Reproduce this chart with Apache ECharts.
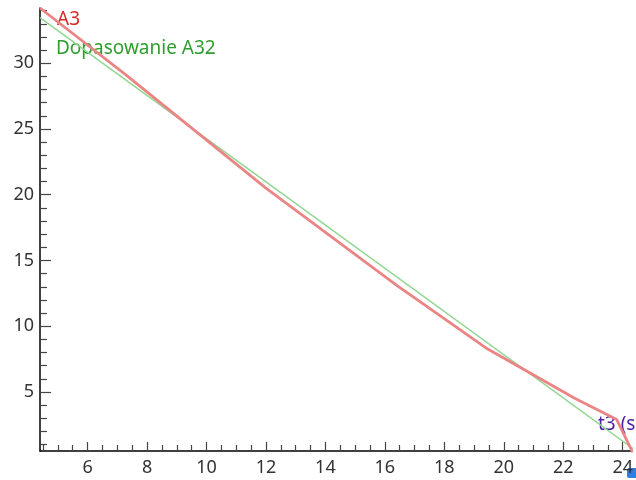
<!DOCTYPE html>
<html>
<head>
<meta charset="utf-8">
<script src="https://cdn.jsdelivr.net/npm/echarts@6/dist/echarts.min.js"></script>
<style>
  html, body { margin: 0; padding: 0; background: #fff; }
  #chart { width: 636px; height: 480px; }
</style>
</head>
<body>
<div id="chart"></div>
<script>
// measured series A3
var a3X = [4.4, 7.3, 12.0, 16.4, 19.4, 22.4, 23.8, 24.4];
var a3Y = [34.2, 29.1, 20.5, 13.1, 8.35, 4.5, 2.9, 0.1];
// fitted line (Dopasowanie A32), end points
var fitX = [4.4, 24.4];
var fitY = [33.46, 0.6];

var xMajor = [6, 8, 10, 12, 14, 16, 18, 20, 22, 24];
var xMinor = [4.5, 5, 5.5, 6.5, 7, 7.5, 8.5, 9, 9.5, 10.5, 11, 11.5, 12.5, 13, 13.5,
  14.5, 15, 15.5, 16.5, 17, 17.5, 18.5, 19, 19.5, 20.5, 21, 21.5, 22.5, 23, 23.5];
var yMajor = [5, 10, 15, 20, 25, 30];
var yMinor = [1, 2, 3, 4, 6, 7, 8, 9, 11, 12, 13, 14, 16, 17, 18, 19,
  21, 22, 23, 24, 26, 27, 28, 29, 31, 32, 33, 34];

function pairs(xs, ys) {
  var res = [];
  for (var i = 0; i < xs.length; i++) res.push([xs[i], ys[i]]);
  return res;
}

var chart = echarts.init(document.getElementById('chart'));
var font = '"Noto Sans", "DejaVu Sans", sans-serif';
var xRange = { min: 4.4, max: 24.27 };
var yRange = { min: 0.51, max: 34.2 };

chart.setOption({
  animation: false,
  grid: { left: 40, right: 0, top: 8, bottom: 29 },
  xAxis: [
    {
      type: 'value', min: xRange.min, max: xRange.max,
      axisLine: { lineStyle: { color: '#000', width: 1.5 } },
      axisTick: { inside: true, length: 9, customValues: xMajor, lineStyle: { color: '#444', width: 1.2 } },
      axisLabel: { customValues: xMajor, margin: 8, color: '#333', fontSize: 18, fontFamily: font },
      splitLine: { show: false }
    },
    {
      type: 'value', min: xRange.min, max: xRange.max, position: 'bottom',
      axisLine: { show: false },
      axisTick: { inside: true, length: 6, customValues: xMinor, lineStyle: { color: '#444', width: 1.2 } },
      axisLabel: { show: false },
      splitLine: { show: false }
    }
  ],
  yAxis: [
    {
      type: 'value', min: yRange.min, max: yRange.max,
      axisLine: { show: true, lineStyle: { color: '#000', width: 1.5 } },
      axisTick: { show: true, inside: true, length: 11, customValues: yMajor, lineStyle: { color: '#444', width: 1.2 } },
      axisLabel: { customValues: yMajor, margin: 6, color: '#333', fontSize: 18, fontFamily: font },
      splitLine: { show: false }
    },
    {
      type: 'value', min: yRange.min, max: yRange.max, position: 'left',
      axisLine: { show: false },
      axisTick: { show: true, inside: true, length: 7, customValues: yMinor, lineStyle: { color: '#444', width: 1.2 } },
      axisLabel: { show: false },
      splitLine: { show: false }
    }
  ],
  series: [
    {
      name: 'Dopasowanie A32', type: 'line', data: pairs(fitX, fitY),
      showSymbol: false, lineStyle: { color: '#8fd68f', width: 1.5 }
    },
    {
      name: 'A3', type: 'line', data: pairs(a3X, a3Y),
      showSymbol: false, lineStyle: { color: '#eb8585', width: 2.8 }
    }
  ],
  graphic: [
    { type: 'text', left: 57, top: 10, style: { text: 'A3', fill: '#d42a2a', font: '19px ' + font } },
    { type: 'text', left: 56, top: 39, style: { text: 'Dopasowanie A32', fill: '#2e9e2e', font: '19px ' + font } },
    { type: 'text', left: 598, top: 415, style: { text: 't3 (s)', fill: '#4b1fa0', font: '19px ' + font } },
    { type: 'rect', left: 627, top: 468, shape: { width: 12, height: 10, r: 2 }, style: { fill: '#2f7ee0' } }
  ]
});
</script>
</body>
</html>
